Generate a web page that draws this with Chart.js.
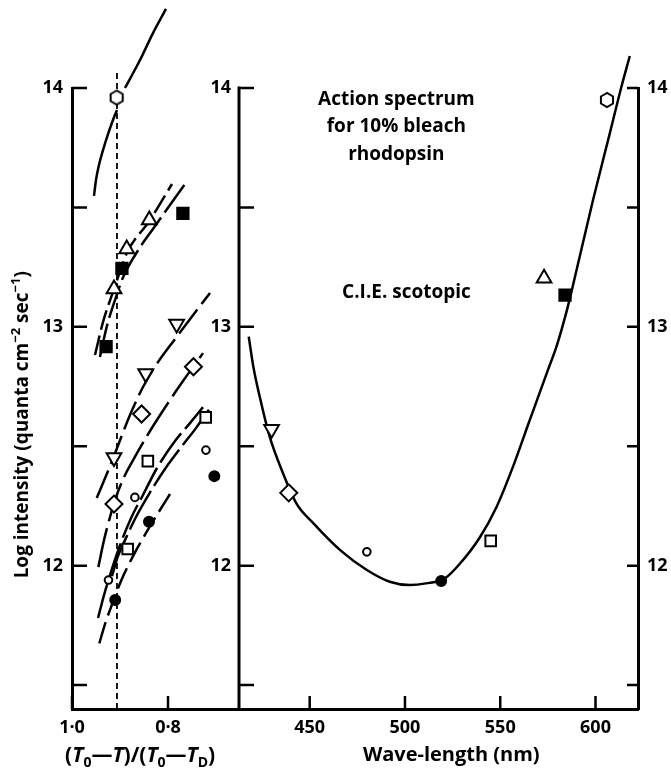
<!DOCTYPE html>
<html lang="en">
<head>
<meta charset="UTF-8" />
<title>Threshold intensity and action spectrum</title>
<script src="https://cdn.jsdelivr.net/npm/chart.js"></script>
<style>
  html, body { margin: 0; padding: 0; background: #fff; }
</style>
</head>
<body>
<canvas id="chart" width="671" height="768"></canvas>
<script>
var FONT = '"Open Sans", Lato, "DejaVu Sans", sans-serif';

// ---- left panel: log intensity against (T0-T)/(T0-TD) ----
var hexPts      = [[0.907, 13.96]];
var triUpPts    = [[0.9125, 13.158], [0.886, 13.326], [0.839, 13.447]];
var sqFilledPts = [[0.929, 12.917], [0.896, 13.245], [0.769, 13.475]];
var triDownPts  = [[0.9125, 12.453], [0.8465, 12.805], [0.782, 13.012]];
var diamondPts  = [[0.9125, 12.258], [0.855, 12.635], [0.747, 12.833]];
var squarePts   = [[0.884, 12.07], [0.842, 12.438], [0.7215, 12.621]];
var circlePts   = [[0.924, 11.94], [0.869, 12.286], [0.721, 12.484]];
var dotPts      = [[0.910, 11.856], [0.8396, 12.184], [0.7035, 12.375]];

// fitted curves (broken where they pass a symbol)
var hexCurveLow  = [[0.9542, 13.548], [0.95, 13.615], [0.9438, 13.678], [0.9354, 13.74], [0.925, 13.807], [0.9146, 13.866], [0.9063, 13.908]];
var hexCurveHigh = [[0.8896, 14.0], [0.8583, 14.117], [0.8313, 14.23], [0.8042, 14.331]];
var triCurveA = [[0.9521, 12.882], [0.9354, 13.02], [0.9125, 13.158], [0.8854, 13.31], [0.8375, 13.447], [0.7917, 13.598]];
var triCurveB = [[0.9417, 12.874], [0.9277, 13.0], [0.9104, 13.112], [0.8931, 13.21], [0.8619, 13.322], [0.8306, 13.412], [0.7646, 13.598]];
var triDownCurve = [[0.9485, 12.283], [0.9208, 12.417], [0.9063, 12.492], [0.8792, 12.631], [0.8521, 12.748], [0.825, 12.84], [0.7854, 12.949], [0.7125, 13.142]];
var diamondCurve = [[0.9452, 11.994], [0.9333, 12.107], [0.9208, 12.204], [0.9083, 12.287], [0.8917, 12.371], [0.875, 12.434], [0.8375, 12.564], [0.8, 12.681], [0.7688, 12.773], [0.7271, 12.89]];
var circleCurve = [[0.9458, 11.781], [0.9333, 11.877], [0.9208, 11.961], [0.9, 12.086], [0.8771, 12.199], [0.8521, 12.296], [0.8229, 12.409], [0.7854, 12.522], [0.7542, 12.597], [0.7271, 12.664]];
var squareCurve = [[0.9167, 11.956], [0.9042, 12.04], [0.8896, 12.107], [0.8667, 12.204], [0.8396, 12.3], [0.8063, 12.405], [0.7708, 12.501], [0.7417, 12.576], [0.7125, 12.66]];
var dotCurve = [[0.9431, 11.675], [0.9292, 11.768], [0.9146, 11.848], [0.8979, 11.936], [0.8729, 12.04], [0.8458, 12.137], [0.8208, 12.22], [0.7958, 12.3]];
var criterionX = 0.9063;

// ---- right panel: action spectrum ----
var specTriDown  = [[430, 12.571]];
var specDiamond  = [[439, 12.305]];
var specCircle   = [[480, 12.058]];
var specDot      = [[519, 11.936]];
var specSquare   = [[545, 12.104]];
var specTriUp    = [[573, 13.203]];
var specSqFilled = [[584, 13.133]];
var specHex      = [[606, 13.95]];
var scotopicWl   = [418, 420.5, 424, 429, 436, 443, 452, 466, 480, 492, 502.5, 511, 521, 529, 539, 548, 556, 565.5, 575, 579.5, 585, 588, 598.7, 607.5, 613.6, 618];
var scotopicLogI = [12.959, 12.83, 12.7, 12.54, 12.387, 12.261, 12.177, 12.065, 11.982, 11.933, 11.919, 11.926, 11.947, 12.01, 12.115, 12.245, 12.4, 12.61, 12.819, 12.917, 13.07, 13.168, 13.531, 13.81, 14.005, 14.134];

// axes
var ratioTicks = [1.0, 0.8];
var waveTicks = [450, 500, 550, 600];
var logTicks = [11.5, 12, 12.5, 13, 13.5, 14];
var logLabels = [12, 13, 14];

function pts(arr) {
  return arr.map(function (p) { return { x: p[0], y: p[1] }; });
}

// hexagon symbol, pointy top
function hexSymbol(r) {
  var c = document.createElement('canvas');
  var s = Math.ceil(r * 2 + 4);
  c.width = s; c.height = s;
  var g = c.getContext('2d');
  g.beginPath();
  for (var i = 0; i < 6; i++) {
    var a = Math.PI / 2 + i * Math.PI / 3;
    var px = s / 2 + r * Math.cos(a), py = s / 2 - r * Math.sin(a);
    if (i === 0) g.moveTo(px, py); else g.lineTo(px, py);
  }
  g.closePath();
  g.fillStyle = '#fff';
  g.fill();
  g.lineWidth = 2;
  g.strokeStyle = '#000';
  g.stroke();
  return c;
}

var symbols = {
  hex:      { pointStyle: hexSymbol(7), pointRadius: 7, rotation: 0, fill: '#fff' },
  triUp:    { pointStyle: 'triangle', pointRadius: 8.5, rotation: 0, fill: '#fff' },
  triDown:  { pointStyle: 'triangle', pointRadius: 8.5, rotation: 180, fill: '#fff' },
  diamond:  { pointStyle: 'rectRot', pointRadius: 8.5, rotation: 0, fill: '#fff' },
  square:   { pointStyle: 'rect', pointRadius: 7.5, rotation: 0, fill: '#fff' },
  circle:   { pointStyle: 'circle', pointRadius: 3.8, rotation: 0, fill: '#fff' },
  dot:      { pointStyle: 'circle', pointRadius: 5, rotation: 0, fill: '#000' },
  sqFilled: { pointStyle: 'rect', pointRadius: 8, rotation: 0, fill: '#000' }
};

function marks(data, kind, xAxis) {
  var s = symbols[kind];
  return {
    type: 'scatter', data: pts(data), xAxisID: xAxis, yAxisID: 'y',
    pointStyle: s.pointStyle, pointRadius: s.pointRadius, rotation: s.rotation,
    pointBackgroundColor: s.fill, pointBorderColor: '#000', pointBorderWidth: 2,
    showLine: false, clip: false, order: 0
  };
}

function curve(data, xAxis, dash) {
  return {
    type: 'line', data: pts(data), xAxisID: xAxis, yAxisID: 'y',
    borderColor: '#000', borderWidth: 2.5, borderDash: dash || [],
    pointRadius: 0, fill: false, cubicInterpolationMode: 'monotone',
    clip: false, order: 1
  };
}

var datasets = [
  marks(hexPts, 'hex', 'x'),
  marks(triUpPts, 'triUp', 'x'),
  marks(sqFilledPts, 'sqFilled', 'x'),
  marks(triDownPts, 'triDown', 'x'),
  marks(diamondPts, 'diamond', 'x'),
  marks(squarePts, 'square', 'x'),
  marks(circlePts, 'circle', 'x'),
  marks(dotPts, 'dot', 'x'),
  marks(specTriDown, 'triDown', 'x2'),
  marks(specDiamond, 'diamond', 'x2'),
  marks(specCircle, 'circle', 'x2'),
  marks(specDot, 'dot', 'x2'),
  marks(specSquare, 'square', 'x2'),
  marks(specTriUp, 'triUp', 'x2'),
  marks(specSqFilled, 'sqFilled', 'x2'),
  marks(specHex, 'hex', 'x2'),
  curve(hexCurveLow, 'x'),
  curve(hexCurveHigh, 'x'),
  curve(triCurveA, 'x', [20, 6]),
  curve(triCurveB, 'x', [34, 6]),
  curve(triDownCurve, 'x', [30, 7]),
  curve(diamondCurve, 'x', [40, 7]),
  curve(circleCurve, 'x', [36, 6]),
  curve(squareCurve, 'x', [44, 6]),
  curve(dotCurve, 'x', [22, 7]),
  curve(scotopicWl.map(function (w, i) { return [w, scotopicLogI[i]]; }), 'x2'),
  {
    type: 'line', data: pts([[criterionX, 11.4], [criterionX, 14.067]]),
    xAxisID: 'x', yAxisID: 'y', borderColor: '#000', borderWidth: 1.8,
    borderDash: [6, 4], pointRadius: 0, clip: false, order: 2
  }
];

// rich text: runs with italic / sub / superscript pieces
function drawRuns(ctx, runs, cx, cy, size) {
  var parts = runs.map(function (r) {
    var s = (r.sub || r.sup) ? Math.round(size * 0.66) : size;
    var font = (r.it ? 'italic ' : '') + 'bold ' + s + 'px ' + FONT;
    ctx.font = font;
    return { t: r.t, font: font, w: ctx.measureText(r.t).width,
             dy: r.sub ? size * 0.32 : (r.sup ? -size * 0.36 : 0) };
  });
  var total = parts.reduce(function (a, p) { return a + p.w; }, 0);
  var xx = cx - total / 2;
  ctx.textAlign = 'left';
  ctx.textBaseline = 'middle';
  parts.forEach(function (p) {
    ctx.font = p.font;
    ctx.fillText(p.t, xx, cy + p.dy);
    xx += p.w;
  });
}

var frame = {
  id: 'frame',
  afterDraw: function (chart) {
    var ctx = chart.ctx;
    var y = chart.scales.y, x = chart.scales.x, x2 = chart.scales.x2, yR = chart.scales.yR;
    var bottom = y.getPixelForValue(11.4), top = y.getPixelForValue(14);
    ctx.save();
    ctx.strokeStyle = '#000';
    ctx.fillStyle = '#000';
    ctx.lineWidth = 3;
    ctx.lineCap = 'butt';

    // middle axis (left edge of the spectrum panel)
    var xm = x2.left;
    ctx.beginPath();
    ctx.moveTo(xm, top - 1.5);
    ctx.lineTo(xm, bottom);
    ctx.stroke();

    ctx.lineWidth = 2.5;
    logTicks.forEach(function (v) {
      var py = y.getPixelForValue(v);
      ctx.beginPath();
      ctx.moveTo(y.right, py); ctx.lineTo(y.right + 15, py);
      ctx.moveTo(xm, py); ctx.lineTo(xm + 15, py);
      ctx.moveTo(yR.left, py); ctx.lineTo(yR.left - 11, py);
      ctx.stroke();
    });
    ratioTicks.forEach(function (v) {
      var px = x.getPixelForValue(v);
      ctx.beginPath(); ctx.moveTo(px, bottom); ctx.lineTo(px, bottom - 13); ctx.stroke();
    });
    waveTicks.forEach(function (v) {
      var px = x2.getPixelForValue(v);
      ctx.beginPath(); ctx.moveTo(px, bottom); ctx.lineTo(px, bottom - 13); ctx.stroke();
    });

    // tick labels of the middle axis
    ctx.font = tickFont.weight + ' ' + tickFont.size + 'px ' + FONT;
    ctx.textAlign = 'right';
    ctx.textBaseline = 'middle';
    logLabels.forEach(function (v) {
      ctx.fillText(String(v), xm - 8, y.getPixelForValue(v));
    });

    // axis titles
    ctx.save();
    ctx.translate(23, y.getPixelForValue(12.59));
    ctx.rotate(-Math.PI / 2);
    drawRuns(ctx, [
      { t: 'Log intensity (quanta cm' }, { t: '\u22122', sup: 1 },
      { t: ' sec' }, { t: '\u22121', sup: 1 }, { t: ')' }
    ], 0, 0, 19);
    ctx.restore();

    drawRuns(ctx, [
      { t: '(' }, { t: 'T', it: 1 }, { t: '0', sub: 1 }, { t: '\u2014' }, { t: 'T', it: 1 },
      { t: ')/(' }, { t: 'T', it: 1 }, { t: '0', sub: 1 }, { t: '\u2014' }, { t: 'T', it: 1 },
      { t: 'D', sub: 1 }, { t: ')' }
    ], x.getPixelForValue(0.858), 756, 21);

    drawRuns(ctx, [{ t: 'Wave-length (nm)' }], x2.getPixelForValue(524.3), 755, 20);

    // curve labels
    var cxA = x2.getPixelForValue(495.5);
    drawRuns(ctx, [{ t: 'Action spectrum' }], cxA, y.getPixelForValue(13.95), 19);
    drawRuns(ctx, [{ t: 'for 10% bleach' }], cxA, y.getPixelForValue(13.837), 19);
    drawRuns(ctx, [{ t: 'rhodopsin' }], cxA, y.getPixelForValue(13.72), 19);
    drawRuns(ctx, [{ t: 'C.I.E. scotopic' }], x2.getPixelForValue(500.8), y.getPixelForValue(13.142), 19);
    ctx.restore();
  }
};

var tickFont = { family: FONT, size: 18, weight: 'bold' };

new Chart(document.getElementById('chart'), {
  type: 'scatter',
  data: { datasets: datasets },
  plugins: [frame],
  options: {
    responsive: false,
    animation: false,
    events: [],
    layout: { padding: { top: 88, left: 0, right: 0, bottom: 0 } },
    plugins: { legend: { display: false }, tooltip: { enabled: false } },
    scales: {
      x: {
        type: 'linear', position: 'bottom', stack: 'bottom', stackWeight: 167,
        min: 0.6521, max: 1.0, reverse: true,
        grid: { display: false, drawTicks: false },
        border: { display: true, width: 3, color: '#000' },
        afterBuildTicks: function (s) { s.ticks = ratioTicks.map(function (v) { return { value: v }; }); },
        afterFit: function (s) { s.height = 59; },
        ticks: {
          font: tickFont, color: '#000', padding: 8, maxRotation: 0, autoSkip: false,
          callback: function (v) { return v.toFixed(1).replace('.', '\u00b7'); }
        }
      },
      x2: {
        type: 'linear', position: 'bottom', stack: 'bottom', stackWeight: 399,
        min: 412.9, max: 622.3,
        grid: { display: false, drawTicks: false },
        border: { display: true, width: 3, color: '#000' },
        afterBuildTicks: function (s) { s.ticks = waveTicks.map(function (v) { return { value: v }; }); },
        afterFit: function (s) { s.height = 59; },
        ticks: { font: tickFont, color: '#000', padding: 8, maxRotation: 0, autoSkip: false }
      },
      y: {
        type: 'linear', position: 'left', min: 11.4, max: 14,
        grid: { display: false, drawTicks: false },
        border: { display: true, width: 3, color: '#000' },
        afterBuildTicks: function (s) { s.ticks = logTicks.map(function (v) { return { value: v }; }); },
        afterFit: function (s) { s.width = 72; },
        ticks: {
          font: tickFont, color: '#000', padding: 9,
          callback: function (v) { return logLabels.indexOf(v) >= 0 ? String(v) : ''; }
        }
      },
      yR: {
        type: 'linear', position: 'right', min: 11.4, max: 14,
        grid: { display: false, drawTicks: false },
        border: { display: true, width: 3, color: '#000' },
        afterBuildTicks: function (s) { s.ticks = logTicks.map(function (v) { return { value: v }; }); },
        afterFit: function (s) { s.width = 33; },
        ticks: {
          font: tickFont, color: '#000', padding: 9,
          callback: function (v) { return logLabels.indexOf(v) >= 0 ? String(v) : ''; }
        }
      }
    }
  }
});
</script>
</body>
</html>
